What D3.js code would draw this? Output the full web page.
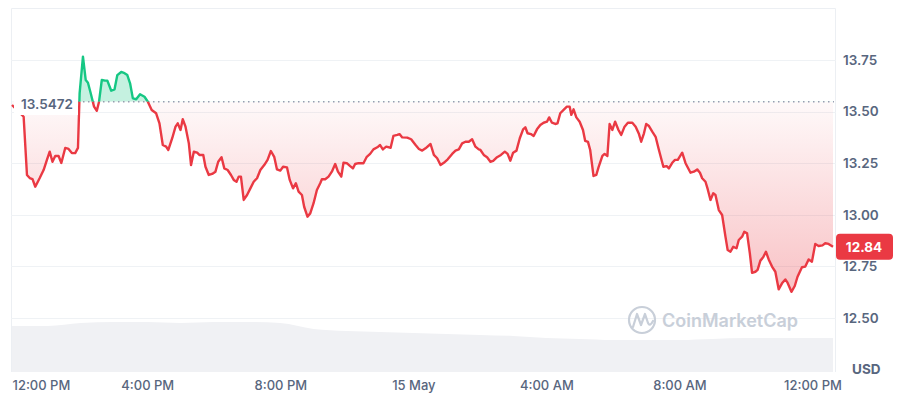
<!DOCTYPE html>
<html>
<head>
<meta charset="utf-8">
<script src="https://cdn.jsdelivr.net/npm/d3@7"></script>
<style>
  body { margin: 0; background: #fff; }
  svg { display: block; font-family: Inter, "Noto Sans", sans-serif; }
</style>
</head>
<body>
<div id="vue"></div>
<script>
// minutes after 12:00 PM on 14 May
var minutes = [
  -4, 17, 23, 28, 33, 38, 46, 53, 59, 64,
  69, 74, 80, 85, 92, 98, 104, 110, 115, 118,
  124, 129, 133, 138, 144, 149, 153, 158, 164, 168,
  175, 181, 186, 193, 199, 204, 209, 214, 220, 227,
  235, 241, 248, 256, 262, 268, 274, 278, 285, 291,
  295, 300, 304, 309, 315, 319, 324, 330, 334, 341,
  345, 351, 357, 363, 368, 374, 379, 385, 391, 396,
  401, 405, 409, 414, 420, 426, 432, 438, 444, 451,
  457, 463, 469, 474, 480, 485, 492, 497, 503, 508,
  513, 519, 523, 529, 534, 540, 546, 552, 555, 561,
  567, 573, 579, 584, 590, 594, 600, 606, 611, 615,
  621, 630, 636, 642, 648, 655, 660, 665, 671, 679,
  684, 691, 695, 700, 709, 716, 724, 730, 736, 742,
  751, 757, 763, 769, 775, 782, 790, 796, 802, 808,
  814, 820, 826, 832, 838, 841, 847, 853, 859, 864,
  871, 878, 885, 890, 895, 900, 906, 912, 918, 922,
  926, 932, 937, 943, 949, 955, 961, 965, 970, 976,
  980, 985, 991, 997, 1002, 1005, 1009, 1014, 1020, 1026,
  1030, 1035, 1039, 1042, 1045, 1050, 1054, 1061, 1065, 1070,
  1074, 1079, 1084, 1090, 1095, 1101, 1107, 1115, 1121, 1127,
  1131, 1136, 1140, 1145, 1151, 1157, 1163, 1171, 1177, 1181,
  1187, 1192, 1197, 1205, 1211, 1220, 1226, 1232, 1237, 1241,
  1247, 1251, 1256, 1261, 1265, 1271, 1277, 1283, 1287, 1292,
  1297, 1303, 1307, 1313, 1317, 1322, 1327, 1331, 1337, 1341,
  1346, 1351, 1356, 1361, 1367, 1373, 1379, 1385, 1391, 1395,
  1402, 1408, 1413, 1421, 1427, 1433, 1439, 1445, 1451, 1458,
  1463, 1469, 1477
];

// price in USD
var prices = [
  13.532, 13.475, 13.193, 13.178, 13.173, 13.136, 13.178, 13.217, 13.266, 13.306,
  13.257, 13.285, 13.285, 13.251, 13.324, 13.319, 13.299, 13.299, 13.324, 13.590,
  13.766, 13.653, 13.640, 13.589, 13.524, 13.504, 13.548, 13.653, 13.650, 13.650,
  13.601, 13.608, 13.677, 13.692, 13.686, 13.677, 13.637, 13.564, 13.560, 13.584,
  13.572, 13.548, 13.508, 13.492, 13.443, 13.338, 13.330, 13.314, 13.371, 13.427,
  13.443, 13.411, 13.463, 13.427, 13.346, 13.241, 13.306, 13.301, 13.290, 13.290,
  13.233, 13.193, 13.198, 13.209, 13.257, 13.279, 13.225, 13.217, 13.193, 13.169,
  13.160, 13.185, 13.185, 13.072, 13.096, 13.128, 13.160, 13.177, 13.217, 13.241,
  13.266, 13.309, 13.281, 13.220, 13.214, 13.233, 13.230, 13.169, 13.128, 13.153,
  13.112, 13.096, 13.039, 12.991, 13.007, 13.056, 13.120, 13.153, 13.172, 13.172,
  13.185, 13.209, 13.246, 13.209, 13.185, 13.252, 13.250, 13.236, 13.225, 13.246,
  13.250, 13.250, 13.281, 13.295, 13.317, 13.327, 13.338, 13.317, 13.330, 13.325,
  13.382, 13.387, 13.391, 13.375, 13.374, 13.366, 13.338, 13.319, 13.311, 13.322,
  13.343, 13.290, 13.274, 13.241, 13.252, 13.269, 13.295, 13.311, 13.317, 13.346,
  13.354, 13.354, 13.366, 13.330, 13.317, 13.314, 13.290, 13.279, 13.257, 13.261,
  13.279, 13.290, 13.306, 13.295, 13.262, 13.301, 13.311, 13.371, 13.414, 13.424,
  13.395, 13.391, 13.382, 13.414, 13.435, 13.446, 13.451, 13.472, 13.446, 13.440,
  13.443, 13.492, 13.508, 13.524, 13.524, 13.484, 13.511, 13.472, 13.451, 13.411,
  13.358, 13.353, 13.314, 13.250, 13.188, 13.193, 13.230, 13.285, 13.295, 13.285,
  13.440, 13.411, 13.451, 13.411, 13.387, 13.427, 13.446, 13.446, 13.427, 13.391,
  13.354, 13.395, 13.440, 13.430, 13.403, 13.378, 13.314, 13.233, 13.236, 13.225,
  13.252, 13.266, 13.266, 13.301, 13.250, 13.204, 13.209, 13.220, 13.204, 13.177,
  13.160, 13.124, 13.072, 13.104, 13.096, 13.023, 12.999, 12.894, 12.829, 12.821,
  12.845, 12.838, 12.878, 12.894, 12.918, 12.910, 12.813, 12.719, 12.724, 12.733,
  12.778, 12.794, 12.821, 12.784, 12.749, 12.724, 12.639, 12.668, 12.687, 12.671,
  12.627, 12.655, 12.700, 12.746, 12.749, 12.784, 12.773, 12.859, 12.849, 12.852,
  12.862, 12.859, 12.845
];

// volume (hourly, arbitrary units as drawn)
var volMinutes = [-4, 60, 120, 180, 240, 300, 360, 420, 480, 540, 600, 660, 720,
  780, 840, 900, 960, 1020, 1080, 1140, 1200, 1260, 1320, 1380, 1440, 1477];
var volumes = [46, 46, 49, 50, 50, 49, 50, 50, 49, 43, 41, 40, 39,
  38, 37, 36, 34, 33, 32, 32, 32, 33, 34, 34, 34, 34];

var tickHours = [0, 4, 8, 12, 16, 20, 24];
var tickLabels = ["12:00 PM", "4:00 PM", "8:00 PM", "15 May", "4:00 AM", "8:00 AM", "12:00 PM"];
var priceTicks = [12.50, 12.75, 13.00, 13.25, 13.50, 13.75];
var basePrice = 13.5472;
var lastPrice = 12.84;

var width = 900, height = 400;
var red = "#ea3943", green = "#16c784", grey = "#58667e", gridCol = "#eff2f5";

var t0 = new Date(2024, 4, 14, 12, 0).getTime();
function toDate(m) { return new Date(t0 + m * 60000); }

var data = minutes.map(function (m, i) { return { date: toDate(m), price: prices[i] }; });
var vol = volMinutes.map(function (m, i) { return { date: toDate(m), v: volumes[i] }; });

var svg = d3.select("#vue").append("svg")
  .attr("width", width)
  .attr("height", height);

var x = d3.scaleTime()
  .domain([toDate(minutes[0]), toDate(minutes[minutes.length - 1])])
  .range([12, 833]);
var y = d3.scaleLinear().domain([12.5, 13.75]).range([318, 60]);
var yVol = d3.scaleLinear().domain([0, 50]).range([372, 322]);
var baseY = y(basePrice);

// defs : clips + gradient
var defs = svg.append("defs");
defs.append("clipPath").attr("id", "above")
  .append("rect").attr("x", 0).attr("y", 0).attr("width", width).attr("height", baseY);
defs.append("clipPath").attr("id", "below")
  .append("rect").attr("x", 0).attr("y", baseY).attr("width", width).attr("height", height - baseY);
var grad = defs.append("linearGradient").attr("id", "redGrad")
  .attr("gradientUnits", "userSpaceOnUse")
  .attr("x1", 0).attr("y1", baseY).attr("x2", 0).attr("y2", 300);
grad.append("stop").attr("offset", "0%").attr("stop-color", red).attr("stop-opacity", 0.03);
grad.append("stop").attr("offset", "100%").attr("stop-color", red).attr("stop-opacity", 0.32);

// cadre
svg.append("path")
  .attr("d", "M11.5,372 V8.5 H835.5 V372")
  .attr("fill", "none")
  .attr("stroke", "#eceff3");

// grille horizontale
svg.append("g").selectAll("line")
  .data(priceTicks)
  .enter().append("line")
  .attr("x1", 11).attr("x2", 836)
  .attr("y1", function (d) { return Math.round(y(d)) + 0.5; })
  .attr("y2", function (d) { return Math.round(y(d)) + 0.5; })
  .attr("stroke", gridCol);

// volume
svg.append("path")
  .datum(vol)
  .attr("fill", "#f0f1f4")
  .attr("d", d3.area()
    .curve(d3.curveMonotoneX)
    .x(function (d) { return x(d.date); })
    .y0(yVol(0))
    .y1(function (d) { return yVol(d.v); }));

// filigrane
var wm = svg.append("g").attr("opacity", 0.9);
wm.append("circle").attr("cx", 642).attr("cy", 320).attr("r", 13)
  .attr("fill", "none").attr("stroke", "#c3cad5").attr("stroke-width", 2.2);
wm.append("path")
  .attr("d", "M633,327 L637,314 L641,325 L645,314 L648,323 Q650,327 653,321")
  .attr("fill", "none").attr("stroke", "#c3cad5").attr("stroke-width", 2.2)
  .attr("stroke-linejoin", "round").attr("stroke-linecap", "round");
wm.append("text").attr("x", 662).attr("y", 327)
  .attr("font-size", 18).attr("font-weight", 600)
  .attr("fill", "#c3cad5")
  .text("CoinMarketCap");

// aires
var area = d3.area()
  .x(function (d) { return x(d.date); })
  .y0(baseY)
  .y1(function (d) { return y(d.price); });
svg.append("path").datum(data)
  .attr("clip-path", "url(#above)")
  .attr("fill", green).attr("fill-opacity", 0.25)
  .attr("d", area);
svg.append("path").datum(data)
  .attr("clip-path", "url(#below)")
  .attr("fill", "url(#redGrad)")
  .attr("d", area);

// ligne de référence pointillée
svg.append("line")
  .attr("x1", 78).attr("x2", 834)
  .attr("y1", baseY).attr("y2", baseY)
  .attr("stroke", "#979db0").attr("stroke-width", 1.5)
  .attr("stroke-dasharray", "1.5,3.5");

// courbe prix
var line = d3.line()
  .x(function (d) { return x(d.date); })
  .y(function (d) { return y(d.price); });
svg.append("path").datum(data)
  .attr("clip-path", "url(#above)")
  .attr("fill", "none").attr("stroke", green).attr("stroke-width", 2.4)
  .attr("stroke-linejoin", "round")
  .attr("d", line);
svg.append("path").datum(data)
  .attr("clip-path", "url(#below)")
  .attr("fill", "none").attr("stroke", red).attr("stroke-width", 2.4)
  .attr("stroke-linejoin", "round")
  .attr("d", line);

// étiquette de la valeur de référence
svg.append("rect").attr("x", 14).attr("y", 93).attr("width", 64).attr("height", 22)
  .attr("fill", "#fff");
svg.append("text").attr("x", 21).attr("y", baseY + 2)
  .attr("dy", "0.35em")
  .attr("font-size", 13.5).attr("font-weight", 600).attr("fill", grey)
  .text(basePrice);

// axe Y
var yAxis = svg.append("g")
  .attr("transform", "translate(836,0)")
  .call(d3.axisRight(y).tickValues(priceTicks).tickFormat(d3.format(".2f")).tickSize(0).tickPadding(7));
yAxis.select(".domain").remove();
yAxis.selectAll("text")
  .attr("font-family", "Inter, sans-serif")
  .attr("font-size", 13.5).attr("font-weight", 600).attr("fill", grey);

// étiquette dernier prix
var tagY = y(lastPrice);
svg.append("rect").attr("x", 836).attr("y", tagY - 14).attr("width", 57).attr("height", 26)
  .attr("rx", 4).attr("fill", red);
svg.append("text").attr("x", 864).attr("y", tagY - 1)
  .attr("dy", "0.35em").attr("text-anchor", "middle")
  .attr("font-size", 13.5).attr("font-weight", 700).attr("fill", "#fff")
  .text(lastPrice.toFixed(2));

svg.append("text").attr("x", 852).attr("y", 369)
  .attr("dy", "0.35em")
  .attr("font-size", 13.5).attr("font-weight", 700).attr("fill", grey)
  .text("USD");

// axe X
var xAxis = svg.append("g")
  .attr("transform", "translate(0,372)")
  .call(d3.axisBottom(x)
    .tickValues(tickHours.map(function (h) { return toDate(h * 60); }))
    .tickFormat(function (d, i) { return tickLabels[i]; })
    .tickSize(0).tickPadding(9));
xAxis.select(".domain").remove();
xAxis.selectAll("text")
  .attr("font-family", "Inter, sans-serif")
  .attr("font-size", 13).attr("font-weight", 500).attr("fill", grey);
xAxis.selectAll(".tick").filter(function (d, i) { return i === 0; })
  .select("text")
  .attr("text-anchor", "start")
  .attr("x", 12 - x(toDate(0)));
</script>
</body>
</html>
